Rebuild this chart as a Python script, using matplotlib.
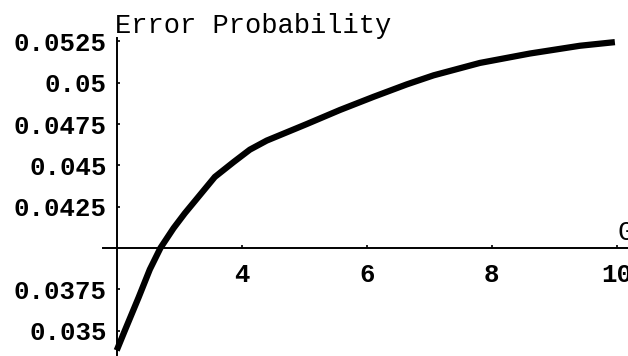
import matplotlib
matplotlib.use('Agg')
from matplotlib import pyplot as plt

# curve (G vs error probability)
g_vals = [2.0, 2.13, 2.35, 2.53, 2.70, 2.91, 3.09, 3.33, 3.57, 3.87, 4.13,
          4.40, 4.88, 5.04, 5.57, 6.11, 6.64, 7.07, 7.81, 8.61, 9.41, 9.97]
err_vals = [0.0338, 0.0350, 0.0370, 0.0387, 0.0400, 0.0412, 0.0421, 0.0432,
            0.0443, 0.0452, 0.04595, 0.0465, 0.04725, 0.0475, 0.04835, 0.04915,
            0.0499, 0.05045, 0.0512, 0.05177, 0.05224, 0.05246]

xticks = [4, 6, 8, 10]
yticks = [0.035, 0.0375, 0.0425, 0.045, 0.0475, 0.05, 0.0525]
ytick_labels = ['0.035', '0.0375', '0.0425', '0.045', '0.0475', '0.05', '0.0525']

mono = 'Liberation Mono'

fig = plt.figure(figsize=(6.28, 3.56), dpi=100)
ax = fig.add_axes([0, 0, 1, 1])
ax.set_xlim(0.133, 10.18)
ax.set_ylim(0.03346, 0.05501)

ax.plot(g_vals, err_vals, color='black', lw=4.5, solid_capstyle='butt',
        solid_joinstyle='round')

# Mathematica-style axes crossing at (2, 0.04)
for side in ['top', 'right']:
    ax.spines[side].set_visible(False)
ax.spines['left'].set_position(('data', 2))
ax.spines['bottom'].set_position(('data', 0.04))
ax.spines['left'].set_bounds(0.0335, 0.0527)
ax.spines['bottom'].set_bounds(1.78, 10.3)
ax.spines['left'].set_linewidth(1.4)
ax.spines['bottom'].set_linewidth(1.4)

ax.set_xticks(xticks)
ax.set_xticklabels([str(t) for t in xticks])
ax.set_yticks(yticks)
ax.set_yticklabels(ytick_labels)
ax.tick_params(axis='y', direction='in', length=2.5, width=1.2, pad=7)
ax.tick_params(axis='x', direction='in', length=2.5, width=1.2, pad=11)
for lab in ax.get_xticklabels() + ax.get_yticklabels():
    lab.set_family(mono)
    lab.set_fontsize(18.5)
    lab.set_fontweight('bold')

ax.text(1.97, 0.0530, 'Error Probability', family=mono, fontsize=19.5,
        ha='left', va='baseline')
ax.text(10.02, 0.0405, 'G', family=mono, fontsize=19.5, ha='left', va='baseline')

fig.savefig('out.png', dpi=100)
